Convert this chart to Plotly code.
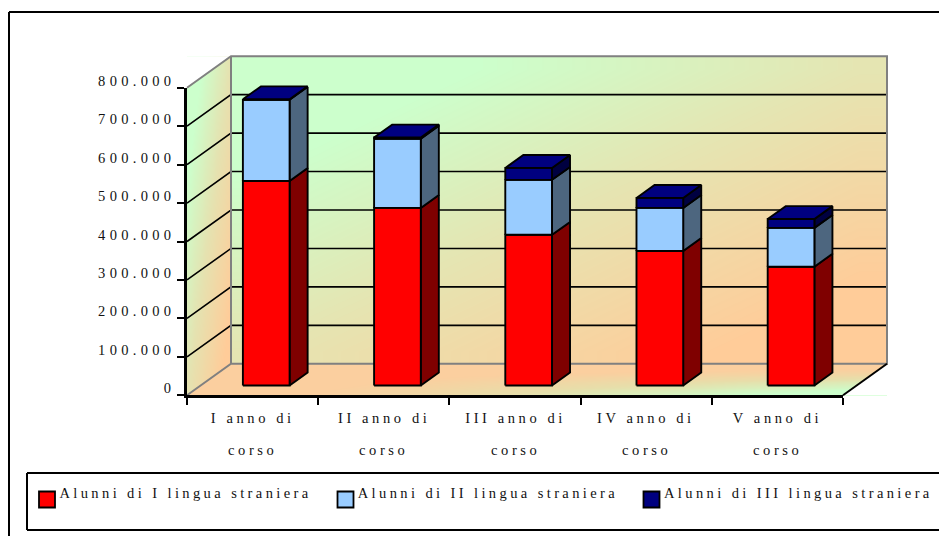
import numpy as np
import plotly.graph_objects as go

# ---- data ----
categories = [["I anno di", "corso"], ["II anno di", "corso"], ["III anno di", "corso"],
              ["IV anno di", "corso"], ["V anno di", "corso"]]
lingua_1 = [532000, 462000, 392000, 350000, 309000]
lingua_2 = [211000, 180000, 143000, 112000, 101000]
lingua_3 = [1500, 3000, 31000, 26000, 23000]
series_names = ["Alunni di I lingua straniera", "Alunni di II lingua straniera",
                "Alunni di III lingua straniera"]
y_ticks = [0, 100000, 200000, 300000, 400000, 500000, 600000, 700000, 800000]
y_labels = ["0", "100.000", "200.000", "300.000", "400.000", "500.000", "600.000", "700.000", "800.000"]

# ---- styling ----
W, H = 939, 536
X0, XPX = 187.0, 131.2          # pixel of category 0 and pixels per category
Y0, YTOP = 395.3, 87.7          # pixel of value 0 and of 800.000
VPX = (Y0 - YTOP) / 800000.0
DEPTH_X = 44.0 / XPX            # wall depth in category units
DEPTH_Y = 31.5 / VPX            # wall depth in value units
BAR_D0, BAR_D1 = 0.31, 0.72     # depth range of the bars
BAR_HW = 0.178
FRONT = ["#FF0000", "#99CCFF", "#000080"]
SIDE = ["#7F0000", "#4D667F", "#000040"]
TOP = "#000080"
GREEN, PEACH = "#CCFFCC", "#FFCC99"
TEXT = "#111111"
FONT = "Liberation Serif"
FS = 14.5


def proj(u, v, d):
    return u + d * DEPTH_X, v + d * DEPTH_Y


def px_u(p):
    return (p - X0) / XPX


def px_v(p):
    return (Y0 - p) / VPX


fig = go.Figure()
n_cat = len(categories)
vmax = y_ticks[-1]


def gradient(x0, x1, v0, v1, z, scale):
    xs = np.linspace(x0, x1, z.shape[1] + 1)
    ys = np.linspace(v0, v1, z.shape[0] + 1)
    fig.add_trace(go.Heatmap(x=xs, y=ys, z=z, zmin=0, zmax=1, zsmooth="best", colorscale=scale,
                             showscale=False, hoverinfo="skip"))


def poly(pts, fill, line=None, width=0.0):
    xs = [p[0] for p in pts] + [pts[0][0]]
    ys = [p[1] for p in pts] + [pts[0][1]]
    fig.add_trace(go.Scatter(x=xs, y=ys, mode="lines", fill="toself", fillcolor=fill,
                             line=dict(color=line or fill, width=width), hoverinfo="skip", showlegend=False))


def seg(pts, color, width):
    fig.add_trace(go.Scatter(x=[p[0] for p in pts], y=[p[1] for p in pts], mode="lines",
                             line=dict(color=color, width=width), hoverinfo="skip", showlegend=False))


N = 12
uu, vv = np.meshgrid(np.linspace(0, 1, N), np.linspace(0, 1, N))  # vv: 0 bottom, 1 top
wall_scale = [[0, PEACH], [0.12, PEACH], [0.5, "#E5E5B2"], [0.82, GREEN], [1, GREEN]]

# floor (peach at the back and left, green at the front right)
fx0, fv_back = proj(0, 0, 1)
floor_z = 1 - (1 - vv) * uu
floor_scale = [[0, GREEN], [0.15, GREEN], [0.55, "#E8DEAA"], [0.85, "#FBCF9F"], [1, "#FBCF9F"]]
gradient(0, n_cat + DEPTH_X, 0, fv_back, floor_z, floor_scale)

# back wall
gradient(fx0, n_cat + fx0, fv_back, proj(0, vmax, 1)[1], (vv + (1 - uu)) / 2, wall_scale)

# side wall, masked to a parallelogram
side_z = 0.5 * (1 - uu) + 0.5 * vv
side_scale = [[0, PEACH], [0.1, PEACH], [0.5, "#E5E2B0"], [0.85, GREEN], [1, GREEN]]
gradient(0, fx0, 0, proj(0, vmax, 1)[1], side_z, side_scale)
poly([(0, vmax), (fx0, proj(0, vmax, 1)[1]), (0, proj(0, vmax, 1)[1])], "#FFFFFF")
poly([proj(0, 0, 0), proj(0, 0, 1), (fx0, 0)], "#FBCF9F")
# mask right of the floor
poly([(n_cat, 0), proj(n_cat, 0, 1), (n_cat + fx0, 0)], "#FFFFFF")

# gridlines
for t in y_ticks[1:-1]:
    seg([proj(0, t, 0), proj(0, t, 1), proj(n_cat, t, 1)], "#000000", 1.6)

# wall edges
GR = "#808080"
seg([proj(0, vmax, 0), proj(0, vmax, 1), proj(n_cat, vmax, 1), proj(n_cat, 0, 1), proj(0, 0, 1), proj(0, 0, 0)], GR, 2)
seg([proj(0, vmax, 1), proj(0, 0, 1)], GR, 2)
seg([proj(n_cat, 0, 0), proj(n_cat, 0, 1)], "#000000", 2)

# bars
stack = [lingua_1, lingua_2, lingua_3]
for i in range(n_cat):
    c = i + 0.5
    l, r = c - BAR_HW, c + BAR_HW
    base = 0
    for s, values in enumerate(stack):
        top = base + values[i]
        poly([proj(r, base, BAR_D0), proj(r, base, BAR_D1), proj(r, top, BAR_D1), proj(r, top, BAR_D0)],
             SIDE[s], "#000000", 1.9)
        poly([proj(l, base, BAR_D0), proj(r, base, BAR_D0), proj(r, top, BAR_D0), proj(l, top, BAR_D0)],
             FRONT[s], "#000000", 1.9)
        base = top
    poly([proj(l, base, BAR_D0), proj(r, base, BAR_D0), proj(r, base, BAR_D1), proj(l, base, BAR_D1)],
         TOP, "#000000", 1.9)

# legend swatches
sw_px = [47, 345.5, 651.5]
for px, col in zip(sw_px, FRONT):
    fig.add_trace(go.Scatter(x=[px_u(px)], y=[px_v(499.5)], mode="markers", hoverinfo="skip",
                             marker=dict(symbol="square", size=16, color=col, line=dict(color="#000000", width=1.8))))

# real axes drawn at the front plane
fig.add_trace(go.Scatter(x=[None], y=[None], xaxis="x2", yaxis="y2", hoverinfo="skip"))

anns = []
for i, lines in enumerate(categories):
    for line, p in zip(lines, (418, 450)):
        anns.append(dict(x=i + 0.5, y=px_v(p), text=line, showarrow=False, xanchor="center", yanchor="middle",
                         font=dict(family=FONT, size=FS, color=TEXT)))
for name, cpx in zip(series_names, (186, 488, 798.5)):
    anns.append(dict(x=px_u(cpx), y=px_v(493), text=name, showarrow=False, xanchor="center", yanchor="middle",
                     font=dict(family=FONT, size=FS, color=TEXT)))


def pl(p1, q1, p2, q2):
    return dict(type="line", xref="paper", yref="paper", x0=p1 / W, y0=1 - q1 / H, x1=p2 / W, y1=1 - q2 / H,
                line=dict(color="#000000", width=2))


shapes = [pl(9, 12, 9, H), pl(9, 12, W, 12), pl(27, 473, W, 473), pl(27, 530, W, 530), pl(27, 473, 27, 530)]

fig.update_layout(
    width=W, height=H, margin=dict(l=0, r=0, t=0, b=0, pad=0, autoexpand=False), showlegend=False,
    paper_bgcolor="#FFFFFF", plot_bgcolor="rgba(0,0,0,0)",
    font=dict(family=FONT, size=FS, color=TEXT),
    xaxis=dict(range=[px_u(0), px_u(W)], domain=[0, 1], visible=False, fixedrange=True),
    yaxis=dict(range=[px_v(H), px_v(0)], domain=[0, 1], visible=False, fixedrange=True),
    xaxis2=dict(range=[0, n_cat], domain=[X0 / W, (X0 + n_cat * XPX) / W], anchor="y2", tickvals=list(range(n_cat + 1)),
                ticktext=[""] * (n_cat + 1), ticks="outside", ticklen=7, tickwidth=2, tickcolor="#000000",
                showline=True, linecolor="#000000", linewidth=2.5, showgrid=False, zeroline=False, fixedrange=True),
    yaxis2=dict(range=[0, vmax], domain=[1 - Y0 / H, 1 - YTOP / H], anchor="x2", tickvals=y_ticks, ticktext=y_labels,
                ticks="outside", ticklen=7, tickwidth=2, tickcolor="#000000", showline=True, linecolor="#000000",
                linewidth=2.5, showgrid=False, zeroline=False, fixedrange=True, ticklabelshift=-7, ticklabelstandoff=-1,
                tickfont=dict(family=FONT, size=FS, color=TEXT)),
    annotations=anns, shapes=shapes,
)

post = """
document.documentElement.style.overflow='hidden';
document.body.style.margin='0';
document.querySelectorAll('.annotation-text').forEach(function(t){
  t.style.letterSpacing = t.textContent.indexOf('Alunni')===0 ? '3.4px' : '3.6px';
});
document.querySelectorAll('.yaxislayer-above text').forEach(function(t){t.style.letterSpacing='4.3px';});
"""
fig.write_html("out.html", post_script=post, config={"displayModeBar": False})
